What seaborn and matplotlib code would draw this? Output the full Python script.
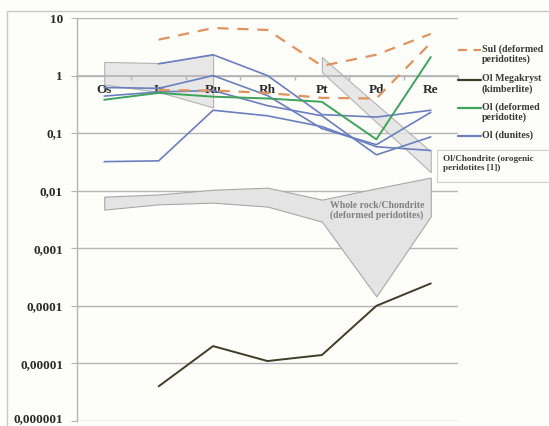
import numpy as np
import pandas as pd
import matplotlib
matplotlib.use("Agg")
import matplotlib.pyplot as plt
import matplotlib.transforms as mtrans
from matplotlib.lines import Line2D
from matplotlib.patches import Rectangle
import seaborn as sns

# ---------------- data ----------------
elements = ["Os", "Ir", "Ru", "Rh", "Pt", "Pd", "Re"]
ytick_values = [1e-6, 1e-5, 1e-4, 1e-3, 1e-2, 1e-1, 1, 10]
ytick_labels = ["0,000001", "0,00001", "0,0001", "0,001", "0,01", "0,1", "1", "10"]

sul_upper = [np.nan, 4.2, 6.7, 6.2, 1.47, 2.3, 5.3]
sul_lower = [np.nan, 0.56, 0.55, 0.50, 0.41, 0.40, 3.7]
oi_megakryst = [np.nan, 4.0e-6, 2.0e-5, 1.1e-5, 1.4e-5, 1.0e-4, 2.45e-4]
oi_deformed = [0.38, 0.50, 0.43, 0.40, 0.35, 0.078, 2.1]
oi_dunite_1 = [np.nan, 1.6, 2.3, 1.0, 0.21, 0.19, 0.25]
oi_dunite_2 = [0.62, 0.60, 1.0, 0.45, 0.12, 0.063, 0.23]
oi_dunite_3 = [0.44, 0.52, 0.55, 0.30, 0.20, 0.042, 0.086]
oi_dunite_4 = [0.032, 0.033, 0.25, 0.20, 0.13, 0.058, 0.05]

# Oi/Chondrite (orogenic peridotites) envelopes
orog_a_idx = [0, 1, 2]
orog_a_top = [1.73, 1.65, 2.3]
orog_a_bot = [0.70, 0.52, 0.28]
orog_b_idx = [4, 6]
orog_b_top = [2.1, 0.048]
orog_b_bot = [1.15, 0.021]

# Whole rock/Chondrite (deformed peridotites) envelope
wr_top = [0.0079, 0.0086, 0.0104, 0.0113, 0.0070, 0.0110, 0.0169]
wr_bot = [0.0047, 0.0058, 0.0062, 0.0053, 0.0029, 0.000146, 0.0036]

legend_labels = ["Sul (deformed\nperidotites)", "Ol Megakryst\n(kimberlite)",
                 "Ol (deformed\nperidotite)", "Ol (dunites)"]

# ---------------- style ----------------
W, H = 549, 426
sns.set_theme(style="white")
plt.rcParams["font.family"] = ["Liberation Serif", "DejaVu Serif"]
plt.rcParams["font.weight"] = "bold"

bg = "#fdfdfa"
c_sul = "#e0935c"
c_meg = "#3e3e28"
c_grn = "#3fa35c"
c_blu = "#6b7fbf"
c_fill = "#e4e4e4"
c_edge = "#a8a8a8"
c_grid = "#b5b5b5"

fig = plt.figure(figsize=(W / 100, H / 100), dpi=100, facecolor=bg)
ax = fig.add_axes([77 / W, 5 / H, (458 - 77) / W, (421 - 18) / H])
ax.set_facecolor(bg)
ax.set_axisbelow(False)

def px(x, y):
    return (x / W, 1 - y / H)

# outer frame
fig.patches.append(Rectangle(px(7, 430), (W + 10) / W, (430 - 11) / H,
                             transform=fig.transFigure, fill=False,
                             edgecolor="#c8c8c8", lw=1.0, zorder=0))

xs = np.arange(len(elements))

# envelopes
ax.fill_between(xs, wr_bot, wr_top, facecolor=c_fill, edgecolor=c_edge, lw=0.8, zorder=1)
ax.fill_between(orog_a_idx, orog_a_bot, orog_a_top, facecolor=c_fill, edgecolor=c_edge,
                lw=0.8, alpha=0.85, zorder=1)
ax.fill_between(orog_b_idx, orog_b_bot, orog_b_top, facecolor=c_fill, edgecolor=c_edge,
                lw=0.8, alpha=0.85, zorder=1)

def draw(vals, color, lw=1.3):
    df = pd.DataFrame({"x": xs, "y": vals}).dropna()
    sns.lineplot(data=df, x="x", y="y", ax=ax, color=color, lw=lw,
                 zorder=3, legend=False)

for v in [oi_dunite_1, oi_dunite_2, oi_dunite_3, oi_dunite_4]:
    draw(v, c_blu, lw=1.2)
draw(oi_deformed, c_grn, lw=1.4)
draw(oi_megakryst, c_meg, lw=1.4)
draw(sul_upper, c_sul, lw=1.6)
draw(sul_lower, c_sul, lw=1.6)
for line in ax.lines[-2:]:
    line.set_dashes([5, 4])

ax.set_yscale("log")
ax.set_ylim(1e-6, 10)
ax.set_xlim(-0.5, 6.5)
ax.set_xlabel("")
ax.set_ylabel("")

# grid lines
for v in ytick_values:
    ax.axhline(v, color=c_grid, lw=1.0, zorder=0.5)

ax.set_yticks(ytick_values)
ax.set_yticklabels(ytick_labels)
ax.yaxis.set_minor_locator(matplotlib.ticker.NullLocator())
ax.tick_params(axis="y", which="major", length=4, width=0.8, color=c_grid,
               labelsize=9.5, pad=6, left=True, labelcolor="#2a2a2a")
for t in ax.get_yticklabels():
    t.set_fontweight("bold")
# nudge the lowest label so it stays inside the image
lowest = ax.get_yticklabels()[0]
lowest.set_transform(lowest.get_transform() +
                     mtrans.ScaledTranslation(0, 3 / 100, fig.dpi_scale_trans))

# x axis crossing at 1
ax.spines["bottom"].set_position(("data", 1))
ax.spines["bottom"].set_color(c_grid)
ax.set_xticks(xs)
ax.set_xticklabels(elements)
ax.set_xticks(np.arange(-0.5, 7, 1), minor=True)
ax.tick_params(axis="x", which="major", length=0, labelsize=9.5, pad=6, labelcolor="#2a2a2a")
ax.tick_params(axis="x", which="minor", length=3, color=c_grid, bottom=True)
for t in ax.get_xticklabels():
    t.set_fontweight("bold")

for s in ["top", "right"]:
    ax.spines[s].set_visible(False)
ax.spines["left"].set_color(c_grid)
ax.spines["left"].set_linewidth(1.0)

# legend (manual, Excel-like)
handles = [(c_sul, (0, (4, 3))), (c_meg, "-"), (c_grn, "-"), (c_blu, "-")]
ys = [50, 80, 108, 136]
for (col, ls), y, lab in zip(handles, ys, legend_labels):
    x0, y0 = px(458, y)
    x1, _ = px(481, y)
    fig.add_artist(Line2D([x0, x1], [y0, y0], transform=fig.transFigure,
                          color=col, lw=1.6, linestyle=ls))
    fig.text(*px(482, y - 6), lab, fontsize=7.2, fontweight="bold", color="#3a3a3a",
             va="top", ha="left", linespacing=1.15)

# Oi/Chondrite box
fig.patches.append(Rectangle(px(437, 182), (W - 437 + 5) / W, 32 / H,
                             transform=fig.transFigure, fill=False,
                             edgecolor="#cfcfcf", lw=0.8))
fig.text(*px(443, 155), "Ol/Chondrite (orogenic\nperidotites [1])", fontsize=6.6,
         fontweight="bold", color="#3a3a3a", va="top", ha="left", linespacing=1.15)

# Whole rock label
fig.text(*px(377, 201), "Whole rock/Chondrite\n(deformed peridotites)", fontsize=7,
         fontweight="bold", color="#808080", va="top", ha="center", linespacing=1.1)

fig.savefig("out.png", dpi=100, facecolor=bg)
